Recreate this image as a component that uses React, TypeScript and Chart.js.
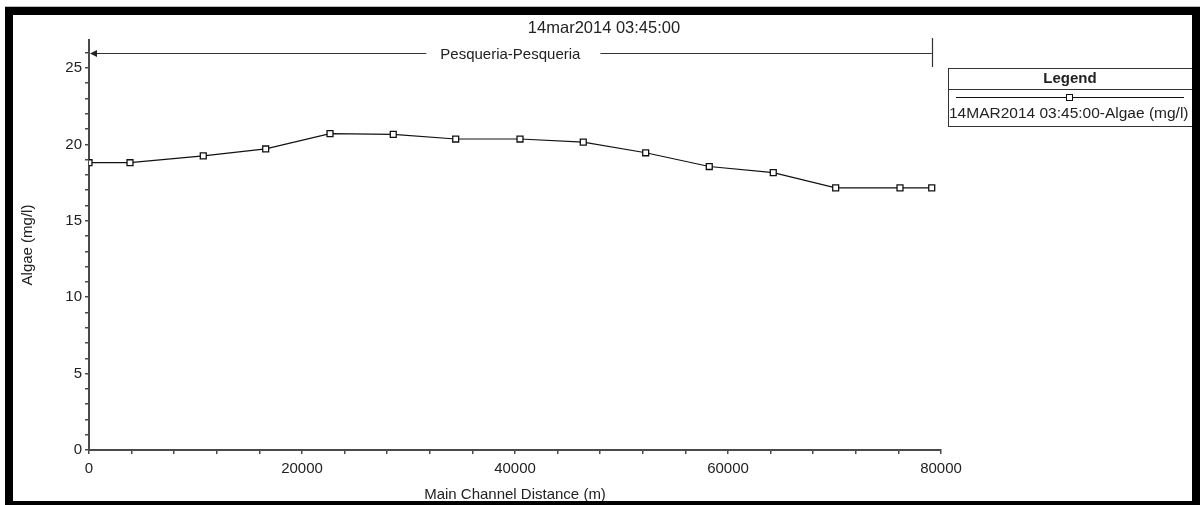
import React, { useEffect, useRef } from 'react';
import { Chart, registerables } from 'chart.js';

Chart.register(...registerables);

const chartTitle = '14mar2014 03:45:00';
const reachLabel = 'Pesqueria-Pesqueria';
const seriesLabel = '14MAR2014 03:45:00-Algae (mg/l)';
const legendTitle = 'Legend';
const xAxisTitle = 'Main Channel Distance (m)';
const yAxisTitle = 'Algae (mg/l)';

const distances = [0, 3850, 10730, 16590, 22630, 28570, 34430, 40470, 46410, 52270, 58240, 64250, 70110, 76150, 79130];
const algae = [18.8, 18.8, 19.25, 19.7, 20.7, 20.65, 20.35, 20.35, 20.15, 19.45, 18.55, 18.15, 17.15, 17.15, 17.15];

const xMajorTicks = [0, 20000, 40000, 60000, 80000];
const xMinorStep = 4000;
const yMajorTicks = [0, 5, 10, 15, 20, 25];
const yMinorStep = 1;
const xMax = 80000;
const yMax = 26.83;

const FONT = '"Liberation Sans", Arial, sans-serif';
const TEXT = '#222';
const AXIS = '#4a4a4a';

const decorPlugin = {
  id: 'decor',
  beforeDraw(chart: any) {
    const { ctx, width, height } = chart;
    ctx.save();
    ctx.fillStyle = '#fff';
    ctx.fillRect(0, 0, width, height);
    ctx.restore();
  },
  afterDraw(chart: any) {
    const { ctx } = chart;
    const xs = chart.scales.x;
    ctx.save();

    // title
    ctx.fillStyle = TEXT;
    ctx.font = `16.5px ${FONT}`;
    ctx.textAlign = 'center';
    ctx.textBaseline = 'middle';
    ctx.fillText(chartTitle, 604, 28);

    // reach arrow
    const x0 = xs.getPixelForValue(distances[0]);
    const x1 = xs.getPixelForValue(distances[distances.length - 1]);
    const ay = 53.5;
    ctx.font = `15px ${FONT}`;
    const mid = (x0 + x1) / 2;
    const tw = ctx.measureText(reachLabel).width;
    ctx.strokeStyle = '#333';
    ctx.lineWidth = 1.2;
    ctx.beginPath();
    ctx.moveTo(x0 + 3, ay);
    ctx.lineTo(mid - tw / 2 - 14, ay);
    ctx.moveTo(mid + tw / 2 + 20, ay);
    ctx.lineTo(x1, ay);
    ctx.moveTo(Math.round(x1) + 0.5, 38);
    ctx.lineTo(Math.round(x1) + 0.5, 67);
    ctx.stroke();
    ctx.fillStyle = '#222';
    ctx.beginPath();
    ctx.moveTo(x0 + 1, ay);
    ctx.lineTo(x0 + 8, ay - 3.5);
    ctx.lineTo(x0 + 8, ay + 3.5);
    ctx.closePath();
    ctx.fill();
    ctx.fillStyle = TEXT;
    ctx.fillText(reachLabel, mid, ay + 1);

    // legend
    ctx.strokeStyle = '#333';
    ctx.lineWidth = 1;
    ctx.strokeRect(948.5, 68.5, 246, 58);
    ctx.beginPath();
    ctx.moveTo(948.5, 89.5);
    ctx.lineTo(1194, 89.5);
    ctx.stroke();
    ctx.font = `bold 15px ${FONT}`;
    ctx.fillStyle = TEXT;
    ctx.textAlign = 'center';
    ctx.fillText(legendTitle, 1070, 78.5);
    ctx.strokeStyle = '#111';
    ctx.beginPath();
    ctx.moveTo(956, 97.5);
    ctx.lineTo(1184, 97.5);
    ctx.stroke();
    ctx.fillStyle = '#fff';
    ctx.fillRect(1066.5, 94.5, 6, 6);
    ctx.strokeRect(1066.5, 94.5, 6, 6);
    ctx.font = `15.5px ${FONT}`;
    ctx.fillStyle = TEXT;
    ctx.textAlign = 'left';
    ctx.fillText(seriesLabel, 949, 114);

    // window frame
    ctx.fillStyle = '#000';
    ctx.fillRect(5, 7, 1195, 8);
    ctx.fillRect(5, 7, 8, 498);
    ctx.fillRect(1192, 7, 8, 498);
    ctx.fillRect(5, 501, 1195, 4);
    ctx.fillStyle = '#bbb';
    ctx.fillRect(5, 6, 1195, 1);
    ctx.restore();
  },
};

export default function App() {
  const ref = useRef<HTMLCanvasElement | null>(null);

  useEffect(() => {
    document.body.style.margin = '0';
    if (!ref.current) return;
    const points = distances.map((d, i) => ({ x: d, y: algae[i] }));
    const chart = new Chart(ref.current, {
      type: 'line',
      data: {
        datasets: [
          {
            label: seriesLabel,
            data: points,
            borderColor: '#111',
            borderWidth: 1.2,
            backgroundColor: '#fff',
            pointStyle: 'rect',
            pointRadius: 4.2,
            pointBorderWidth: 1.3,
            pointBorderColor: '#111',
            pointBackgroundColor: '#fff',
            tension: 0,
            fill: false,
          },
        ],
      },
      options: {
        responsive: false,
        animation: false,
        events: [],
        layout: { padding: { left: 13, right: 259, top: 40, bottom: 1 } },
        plugins: {
          legend: { display: false },
          title: { display: false },
          tooltip: { enabled: false },
        },
        scales: {
          x: {
            type: 'linear',
            min: 0,
            max: xMax,
            afterBuildTicks: (scale: any) => {
              const t: any[] = [];
              for (let v = 0; v <= xMax; v += xMinorStep) t.push({ value: v });
              scale.ticks = t;
            },
            afterFit: (scale: any) => {
              scale.height = 54;
            },
            ticks: {
              autoSkip: false,
              maxRotation: 0,
              padding: 6,
              color: TEXT,
              font: { family: FONT, size: 15 },
              callback: (v: any) => (xMajorTicks.includes(Number(v)) ? String(v) : ''),
            },
            grid: {
              drawOnChartArea: false,
              drawTicks: true,
              tickLength: 4,
              color: AXIS,
              lineWidth: 1.5,
            },
            border: { display: true, color: AXIS, width: 2 },
            title: {
              display: true,
              text: xAxisTitle,
              color: TEXT,
              font: { family: FONT, size: 15 },
              padding: { top: 0, bottom: 0 },
            },
          },
          y: {
            type: 'linear',
            min: 0,
            max: yMax,
            afterBuildTicks: (scale: any) => {
              const t: any[] = [];
              for (let v = 0; v <= 26; v += yMinorStep) t.push({ value: v });
              scale.ticks = t;
            },
            afterFit: (scale: any) => {
              scale.width = 76;
            },
            ticks: {
              autoSkip: false,
              padding: 3,
              color: TEXT,
              font: { family: FONT, size: 15 },
              callback: (v: any) => (yMajorTicks.includes(Number(v)) ? String(v) : ''),
            },
            grid: {
              drawOnChartArea: false,
              drawTicks: true,
              tickLength: 4,
              color: AXIS,
              lineWidth: 1.5,
            },
            border: { display: true, color: AXIS, width: 2 },
            title: {
              display: true,
              text: yAxisTitle,
              color: TEXT,
              font: { family: FONT, size: 15 },
              padding: { top: 6, bottom: 0 },
            },
          },
        },
      },
      plugins: [decorPlugin],
    });
    return () => chart.destroy();
  }, []);

  return (
    <div style={{ width: 1200, height: 505, position: 'relative', background: '#fff' }}>
      <canvas ref={ref} width={1200} height={505} style={{ display: 'block' }} />
    </div>
  );
}
